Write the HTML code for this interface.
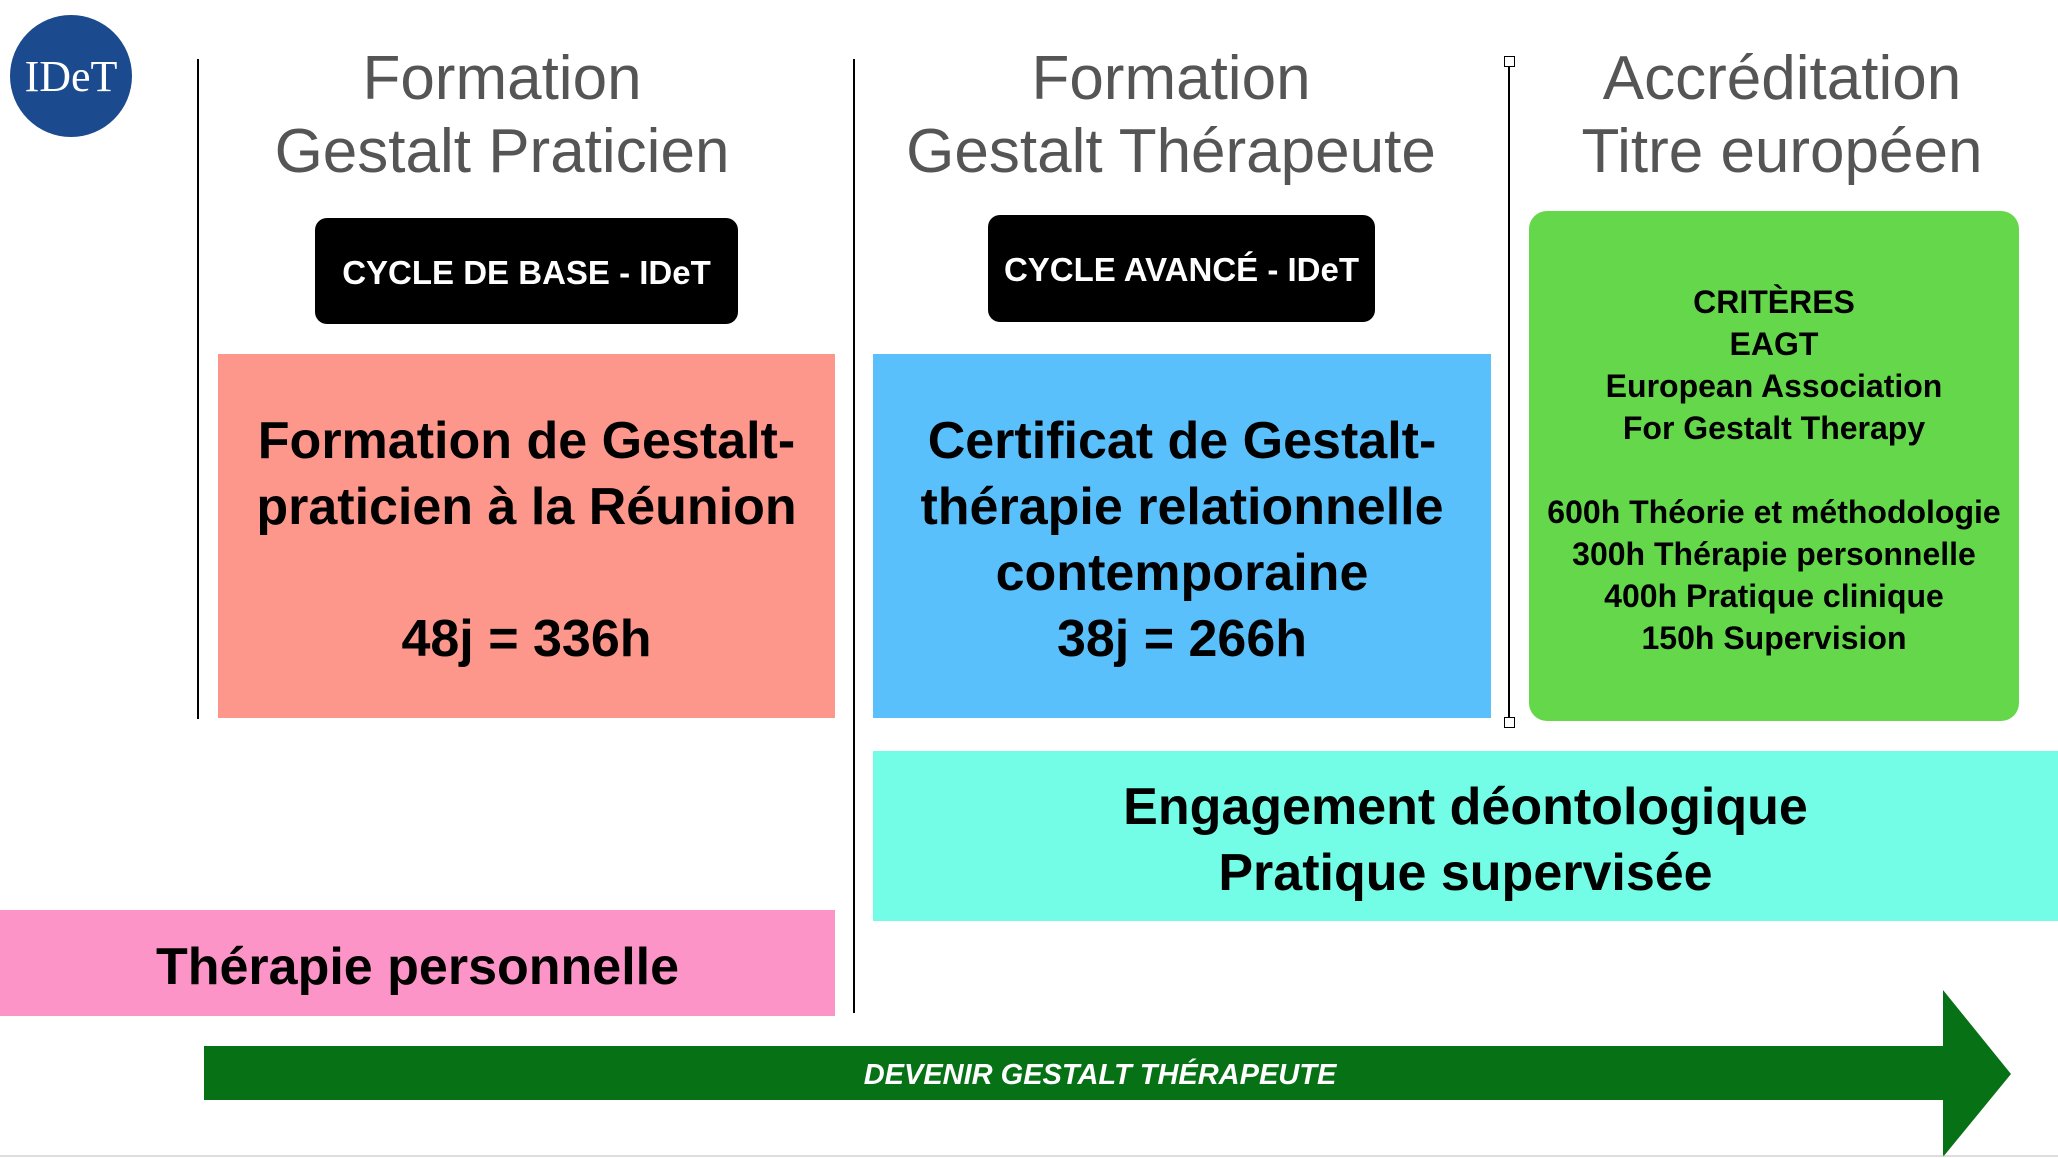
<!DOCTYPE html>
<html><head><meta charset="utf-8"><style>
body{margin:0;width:2058px;height:1158px;background:#fff;position:relative;overflow:hidden;font-family:"Liberation Sans",Arial,sans-serif}
.a{position:absolute}
.t{position:absolute;text-align:center;color:#555;font-size:62px;line-height:73px}
.blk{position:absolute;background:#000;color:#fff;border-radius:12px;font-weight:bold;font-size:33px;display:flex;align-items:center;justify-content:center;padding-top:3px;box-sizing:border-box}
.box{position:absolute;display:flex;align-items:center;justify-content:center;text-align:center;font-weight:bold;color:#000;padding-top:8px;box-sizing:border-box}
.vl{position:absolute;width:2px;background:#000}
</style></head><body>
<div class="a" style="left:10px;top:15px;width:122px;height:122px;border-radius:50%;background:#1b4a8f;color:#fff;font-family:'Liberation Serif',serif;font-size:44px;display:flex;align-items:center;justify-content:center">IDeT</div>
<div class="vl" style="left:197px;top:59px;height:660px"></div>
<div class="vl" style="left:853px;top:59px;height:954px"></div>
<div class="vl" style="left:1508px;top:62px;height:660px;width:2px"></div>
<div class="a" style="left:1504px;top:56px;width:9px;height:9px;border:1px solid #000;background:#fff"></div>
<div class="a" style="left:1504px;top:717px;width:9px;height:9px;border:1px solid #000;background:#fff"></div>
<div class="t" style="left:200px;width:604px;top:42px">Formation<br>Gestalt Praticien</div>
<div class="t" style="left:860px;width:622px;top:42px">Formation<br>Gestalt Thérapeute</div>
<div class="t" style="left:1520px;width:524px;top:42px">Accréditation<br>Titre européen</div>
<div class="blk" style="left:315px;top:218px;width:423px;height:106px">CYCLE DE BASE - IDeT</div>
<div class="blk" style="left:988px;top:215px;width:387px;height:107px">CYCLE AVANCÉ - IDeT</div>
<div class="box" style="left:218px;top:354px;width:617px;height:364px;background:#fd968b;font-size:52px;line-height:66px">Formation de Gestalt-<br>praticien à la Réunion<br><br>48j = 336h</div>
<div class="box" style="left:873px;top:354px;width:618px;height:364px;background:#5ac0fc;font-size:52px;line-height:66px">Certificat de Gestalt-<br>thérapie relationnelle<br>contemporaine<br>38j = 266h</div>
<div class="box" style="left:1529px;top:211px;width:490px;height:510px;border-radius:18px;background:#64d84a;font-size:32px;line-height:42px">CRITÈRES<br>EAGT<br>European Association<br>For Gestalt Therapy<br><br>600h Théorie et méthodologie<br>300h Thérapie personnelle<br>400h Pratique clinique<br>150h Supervision</div>
<div class="box" style="left:873px;top:751px;width:1185px;height:170px;background:#74fde6;font-size:52px;line-height:66px">Engagement déontologique<br>Pratique supervisée</div>
<div class="box" style="left:0;top:910px;width:835px;height:106px;background:#fd94c7;font-size:52px">Thérapie personnelle</div>
<svg class="a" style="left:0;top:0" width="2058" height="1158">
<polygon points="204,1046 1943,1046 1943,990 2011,1074 1943,1157 1943,1100 204,1100" fill="#077116"/>
<line x1="0" y1="1156" x2="2058" y2="1156" stroke="#bbb" stroke-width="1"/>
</svg>
<div class="a" style="left:600px;width:1000px;top:1057px;text-align:center;color:#fff;font-weight:bold;font-style:italic;font-size:29px;line-height:36px">DEVENIR GESTALT THÉRAPEUTE</div>
</body></html>
